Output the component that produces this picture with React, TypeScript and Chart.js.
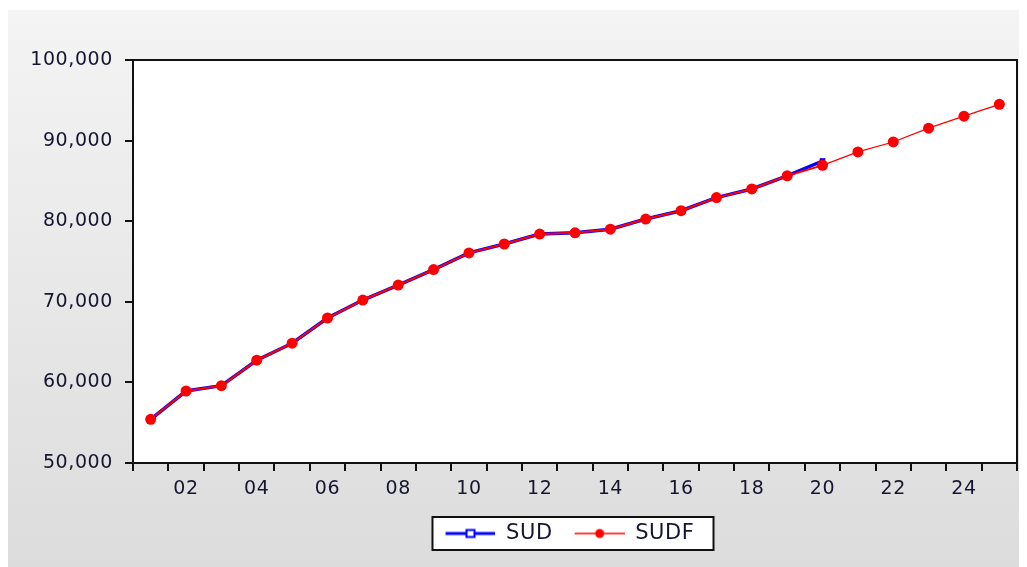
import React, { useEffect, useRef } from 'react';
import { Chart, registerables } from 'chart.js';

Chart.register(...registerables);

const years = [
  '2001', '2002', '2003', '2004', '2005', '2006', '2007', '2008', '2009', '2010',
  '2011', '2012', '2013', '2014', '2015', '2016', '2017', '2018', '2019', '2020',
  '2021', '2022', '2023', '2024', '2025',
];

const sud = [
  55420, 58930, 59590, 62750, 64860, 67990, 70220, 72080, 74000, 76070,
  77170, 78410, 78560, 79010, 80270, 81300, 82930, 84000, 85630, 87470,
];

const sudf = [
  55420, 58930, 59590, 62750, 64860, 67990, 70220, 72080, 74000, 76070,
  77170, 78410, 78560, 79010, 80270, 81300, 82930, 84000, 85630, 86930,
  88600, 89830, 91540, 93030, 94500,
];

const yMin = 50000;
const yMax = 100000;
const yStep = 10000;

const FONT = '"DejaVu Sans", sans-serif';
const TEXT = '#151530';
const LS = '0.6px';

function fmt(v: number) {
  return String(Math.round(v)).replace(/\B(?=(\d{3})+(?!\d))/g, ',');
}

function makeLegendImg(kind: 'sud' | 'sudf') {
  const c = document.createElement('canvas');
  c.width = 60;
  c.height = 14;
  const g = c.getContext('2d')!;
  if (kind === 'sud') {
    g.strokeStyle = '#0000ff';
    g.lineWidth = 3;
    g.beginPath();
    g.moveTo(10, 7);
    g.lineTo(60, 7);
    g.stroke();
    g.fillStyle = '#ffffff';
    g.fillRect(31, 3.5, 8, 7);
    g.lineWidth = 2;
    g.strokeRect(31, 3.5, 8, 7);
  } else {
    g.strokeStyle = '#ff0000';
    g.lineWidth = 1.5;
    g.beginPath();
    g.moveTo(10, 7);
    g.lineTo(60, 7);
    g.stroke();
    g.fillStyle = '#ff0000';
    g.beginPath();
    g.arc(35, 7, 4.5, 0, Math.PI * 2);
    g.fill();
  }
  return c;
}

export default function App() {
  const ref = useRef<HTMLCanvasElement | null>(null);

  useEffect(() => {
    if (!ref.current) return;
    const sudImg = makeLegendImg('sud');
    const sudfImg = makeLegendImg('sudf');

    const spacing = {
      id: 'spacing',
      beforeUpdate(chart: any) {
        chart.ctx.letterSpacing = LS;
      },
      afterUpdate(chart: any) {
        const lg = chart.legend;
        if (lg) {
          const dx = -10;
          lg.left += dx;
          lg.right += dx;
          (lg.legendHitBoxes || []).forEach((h: any) => {
            h.left += dx;
          });
        }
      },
      beforeDraw(chart: any) {
        chart.ctx.letterSpacing = LS;
      },
    };

    const background = {
      id: 'background',
      beforeDraw(chart: any) {
        const { ctx, width, height, chartArea } = chart;
        ctx.save();
        const grad = ctx.createLinearGradient(0, 2, 0, height);
        grad.addColorStop(0, '#f4f4f4');
        grad.addColorStop(1, '#dcdcdc');
        ctx.fillStyle = grad;
        ctx.fillRect(0, 2, width, height - 2);
        ctx.fillStyle = '#ffffff';
        ctx.fillRect(chartArea.left, chartArea.top, chartArea.right - chartArea.left, chartArea.bottom - chartArea.top);
        const lg = chart.legend;
        if (lg && lg.legendHitBoxes && lg.legendHitBoxes.length) {
          const hb = lg.legendHitBoxes;
          const first = hb[0];
          const last = hb[hb.length - 1];
          const left = first.left - 3;
          const right = last.left + last.width + 19;
          const cy = first.top + first.height / 2;
          ctx.fillStyle = '#ffffff';
          ctx.fillRect(left, cy - 16.5, right - left, 33);
          ctx.strokeStyle = '#111111';
          ctx.lineWidth = 2;
          ctx.strokeRect(left, cy - 16.5, right - left, 33);
        }
        ctx.restore();
      },
    };

    const frame = {
      id: 'frame',
      beforeDatasetsDraw(chart: any) {
        const { ctx, chartArea } = chart;
        ctx.save();
        ctx.strokeStyle = '#111111';
        ctx.lineWidth = 2;
        ctx.strokeRect(chartArea.left, chartArea.top, chartArea.right - chartArea.left, chartArea.bottom - chartArea.top);
        ctx.restore();
      },
    };

    const chart = new Chart(ref.current, {
      type: 'line',
      data: {
        labels: years,
        datasets: [
          {
            label: 'SUD',
            data: sud,
            borderColor: '#0000ff',
            backgroundColor: '#0000ff',
            borderWidth: 3.5,
            pointStyle: 'rect',
            pointRadius: 4,
            pointBorderWidth: 0,
            pointBackgroundColor: '#0000ff',
            order: 2,
          },
          {
            label: 'SUDF',
            data: sudf,
            borderColor: '#ff0000',
            backgroundColor: '#ff0000',
            borderWidth: 2,
            pointStyle: 'circle',
            pointRadius: 5.5,
            pointBorderWidth: 0,
            pointBackgroundColor: '#ff0000',
            segment: {
              borderWidth: (c: any) => (c.p0DataIndex >= sud.length - 1 ? 1.2 : 2),
            },
            order: 1,
          },
        ],
      },
      options: {
        responsive: false,
        animation: false,
        devicePixelRatio: 1,
        layout: { padding: { top: 52, right: 10, left: 0, bottom: 13 } },
        plugins: {
          tooltip: { enabled: false },
          legend: {
            position: 'bottom',
            fullSize: false,
            labels: {
              usePointStyle: true,
              pointStyleWidth: 60,
              padding: 12,
              color: TEXT,
              font: { family: FONT, size: 21 },
              sort: (a: any, b: any) => a.datasetIndex - b.datasetIndex,
              generateLabels: (ch: any) => {
                const items = (Chart.defaults.plugins.legend.labels as any).generateLabels(ch);
                return items.map((it: any) => ({
                  ...it,
                  pointStyle: it.datasetIndex === 0 ? sudImg : sudfImg,
                  lineWidth: 0,
                }));
              },
            },
          },
        },
        scales: {
          x: {
            type: 'category',
            offset: true,
            grid: {
              offset: true,
              drawOnChartArea: false,
              drawTicks: true,
              tickLength: 8,
              color: '#111111',
              lineWidth: 2,
            },
            border: { display: false },
            ticks: {
              autoSkip: false,
              maxRotation: 0,
              padding: 7,
              color: TEXT,
              font: { family: FONT, size: 19 },
              callback: (_v: any, i: number) => {
                const y = years[i];
                return Number(y) % 2 === 0 ? y.slice(2) : '';
              },
            },
            afterFit: (s: any) => {
              s.height = 48;
            },
          },
          y: {
            min: yMin,
            max: yMax,
            grid: {
              drawOnChartArea: false,
              drawTicks: true,
              tickLength: 8,
              color: '#111111',
              lineWidth: 2,
            },
            border: { display: false },
            ticks: {
              stepSize: yStep,
              padding: 12,
              color: TEXT,
              font: { family: FONT, size: 19 },
              callback: (v: any) => fmt(Number(v)),
            },
            afterFit: (s: any) => {
              s.width = 125;
            },
          },
        },
      },
      plugins: [spacing, background, frame],
    } as any);

    return () => chart.destroy();
  }, []);

  return (
    <canvas
      ref={ref}
      width={1019}
      height={559}
      style={{ display: 'block', width: 1019, height: 559 }}
    />
  );
}
